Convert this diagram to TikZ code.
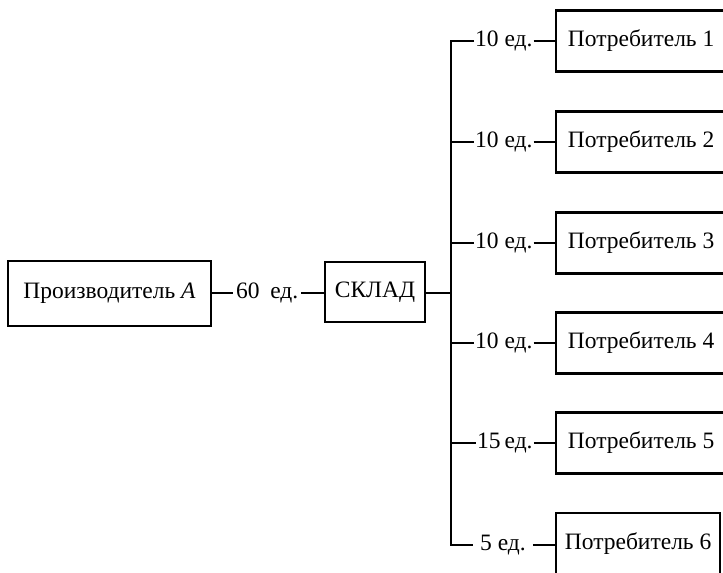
\documentclass[tikz,border=0pt]{standalone}
\usepackage{fontspec}
\setmainfont{Liberation Serif}
\begin{document}
\begin{tikzpicture}[x=1pt,y=-1pt,
  every node/.style={font=\fontsize{23.5}{28}\selectfont},
  box/.style={draw,line width=2.2pt,rectangle,inner sep=0pt},
  qty/.style={inner ysep=2pt,anchor=west},
  link/.style={line width=1.6pt}]
\useasboundingbox (0,0) rectangle (723,573);
\clip (0,0) rectangle (723,573);

% supplier, warehouse and the link between them
\node[box,minimum width=203pt,minimum height=65pt] (prod) at (109.5,293.5) {Производитель \textit{A}};
\node[box,minimum width=100pt,minimum height=60pt] (sklad) at (375,292) {СКЛАД};
\node[qty,inner xsep=3pt] (q0) at (233,293) {60\hspace{0.45em}ед.};
\draw[link] (prod.east |- q0.west) -- (q0.west);
\draw[link] (q0.east) -- (sklad.west |- q0.east);

% distribution bus
\coordinate (bj) at (451,293);
\coordinate (b1) at (451,41);
\coordinate (b2) at (451,142);
\coordinate (b3) at (451,243);
\coordinate (b4) at (451,343);
\coordinate (b5) at (451,443);
\coordinate (b6) at (451,545);
\draw[link] (sklad.east |- bj) -- (bj);

% consumers
\node[box,minimum width=170pt,minimum height=61pt,anchor=west] (c1) at (555,41) {Потребитель 1};
\node[box,minimum width=170pt,minimum height=61pt,anchor=west] (c2) at (555,142) {Потребитель 2};
\node[box,minimum width=170pt,minimum height=61pt,anchor=west] (c3) at (555,243) {Потребитель 3};
\node[box,minimum width=170pt,minimum height=61pt,anchor=west] (c4) at (555,343) {Потребитель 4};
\node[box,minimum width=170pt,minimum height=61pt,anchor=west] (c5) at (555,443) {Потребитель 5};
\node[box,minimum width=164pt,minimum height=62pt,anchor=west] (c6) at (555,544) {Потребитель 6};

% quantities
\node[qty,inner xsep=1pt] (q1) at (474,41) {10 ед.};
\node[qty,inner xsep=1pt] (q2) at (474,142) {10 ед.};
\node[qty,inner xsep=1pt] (q3) at (474,243) {10 ед.};
\node[qty,inner xsep=1pt] (q4) at (474,343) {10 ед.};
\node[qty,inner xsep=1pt] (q5) at (476,443) {15\,ед.};
\node[qty,inner xsep=7pt] (q6) at (473,545) {5 ед.};

\draw[link] (q1.west) -- (b1) -- (b6) -- (q6.west);
\foreach \i in {2,...,5}{\draw[link] (b\i) -- (q\i.west);}
\foreach \i in {1,...,6}{\draw[link] (q\i.east) -- (c\i.west |- q\i.east);}
\end{tikzpicture}
\end{document}
